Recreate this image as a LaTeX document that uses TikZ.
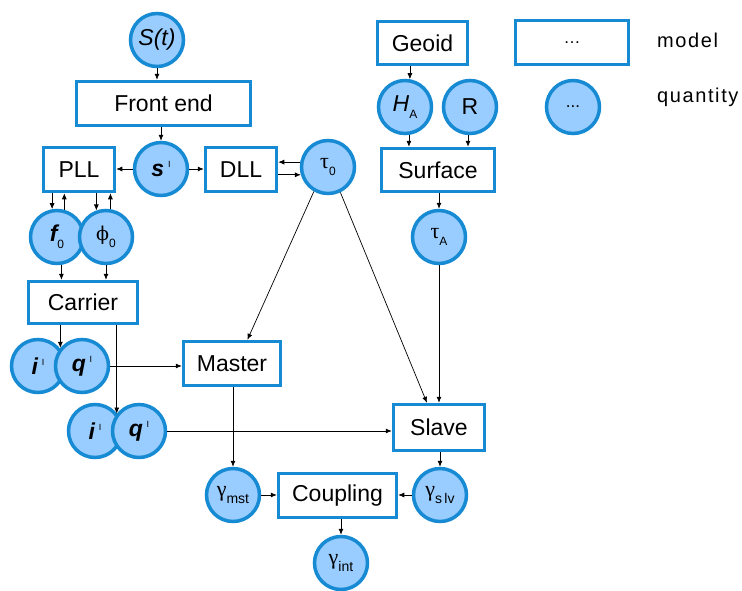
\documentclass[tikz,border=0pt]{standalone}
\usepackage{fontspec}
\setmainfont{Liberation Sans}
\newfontfamily\grk{Liberation Serif}
\newfontfamily\grkb{DejaVu Serif}
\usetikzlibrary{arrows.meta,calc}
\definecolor{bord}{RGB}{22,138,210}
\definecolor{qfill}{RGB}{153,204,255}
\newcommand{\pmark}{\,\raisebox{0.4em}{\fontsize{9}{9}\selectfont\upshape\mdseries I}}
\newcommand{\sbs}[1]{\raisebox{-0.3em}{\fontsize{12}{12}\selectfont\upshape\mdseries #1}}
\newcommand{\gl}[1]{{\grk\fontsize{22}{22}\selectfont #1}}
\begin{document}
\begin{tikzpicture}[x=1pt,y=-1pt,
  model/.style={draw=bord, line width=3.5pt, fill=white, inner sep=0pt, font=\fontsize{23}{23}\selectfont},
  qty/.style={circle, draw=bord, line width=3.5pt, fill=qfill, inner sep=0pt, minimum size=53pt, font=\fontsize{23}{23}\selectfont},
  arr/.style={-{Latex[length=6pt,width=5pt]}, line width=0.7pt, black},
  lbl/.style={anchor=west, inner sep=0pt, font=\fontsize{20}{20}\selectfont\addfontfeature{LetterSpace=8}}]
\useasboundingbox (0,0) rectangle (742,590);

% models
\node[model, minimum width=174pt, minimum height=44pt] (fe) at (163.5,103.5) {Front end};
\node[model, minimum width=71pt, minimum height=44pt] (pll) at (79,169.5) {PLL};
\node[model, minimum width=71pt, minimum height=44pt] (dll) at (241,169.5) {DLL};
\node[model, minimum width=109pt, minimum height=42pt] (car) at (83,302.5) {Carrier};
\node[model, minimum width=97pt, minimum height=44pt] (mas) at (232,363.5) {Master};
\node[model, minimum width=91pt, minimum height=46pt] (sla) at (439,427.5) {Slave};
\node[model, minimum width=118pt, minimum height=44pt] (cou) at (337.5,495.5) {Coupling};
\node[model, minimum width=90pt, minimum height=43pt] (geo) at (422.5,43) {Geoid};
\node[model, minimum width=113pt, minimum height=43pt] (sur) at (438,170) {Surface};
\node[model, minimum width=113pt, minimum height=44pt, font=\fontsize{17}{17}\selectfont] (lm) at (572,42.5) {\ldots};

% quantities
\node[qty] (st) at (157,40) {\itshape S(t)};
\node[qty] (s) at (161,169) {\bfseries\itshape s\pmark};
\node[qty] (t0) at (328,167) {\gl{τ}\sbs{0}};
\node[qty] (f0) at (57,237) {\bfseries\itshape f\sbs{0}};
\node[qty] (phi) at (106,237) {{\grkb\fontsize{19}{19}\selectfont ϕ}\sbs{0}};
\node[qty] (i1) at (38,366) {\bfseries\itshape i\pmark};
\node[qty] (q1) at (82,366) {\bfseries\itshape q\pmark};
\node[qty] (i2) at (95,431) {\bfseries\itshape i\pmark};
\node[qty] (q2) at (139,431) {\bfseries\itshape q\pmark};
\node[qty] (gm) at (233,495) {\gl{γ}\sbs{\fontsize{14}{14}\selectfont mst}};
\node[qty] (gs) at (440,495) {\gl{γ}\sbs{\fontsize{14}{14}\selectfont s\,lv}};
\node[qty] (gi) at (341,563) {\gl{γ}\sbs{\fontsize{14}{14}\selectfont int}};
\node[qty] (ha) at (405,107) {\itshape H\sbs{A}};
\node[qty] (r) at (470,107) {R};
\node[qty] (ta) at (439,237) {\gl{τ}\sbs{A}};
\node[qty, font=\fontsize{17}{17}\selectfont] (lq) at (573,107) {...};

% legend labels
\node[lbl] (lmt) at (657,40) {model};
\node[lbl] (lqt) at (657,97) {quantity};

% connectors
\draw[arr] (st.south) -- (st.south |- fe.north);
\draw[arr] (s.north |- fe.south) -- (s.north);
\draw[arr] (s.west) -- (s.west -| pll.east);
\draw[arr] (s.east) -- (s.east -| dll.west);
\draw[arr] (t0.170) -- (t0.170 -| dll.east);
\draw[arr] (t0.196 -| dll.east) -- (t0.196);
\draw[arr] (f0.100 |- pll.south) -- (f0.100);
\draw[arr] (f0.75) -- (f0.75 |- pll.south);
\draw[arr] (phi.110 |- pll.south) -- (phi.110);
\draw[arr] (phi.81) -- (phi.81 |- pll.south);
\draw[arr] (f0.-81) -- (f0.-81 |- car.north);
\draw[arr] (phi.south) -- (phi.south |- car.north);
\draw[arr] (q1.140 |- car.south) -- (q1.140);
\draw[arr] (q2.142 |- car.south) -- (q2.142);
\draw[arr] (q1.east) -- (q1.east -| mas.west);
\draw[arr] (q2.east) -- (q2.east -| sla.west);
\draw[arr] (t0.-120) -- (mas.57);
\draw[arr] (t0.-64) -- (sla.116);
\draw[arr] (ta.south) -- (ta.south |- sla.north);
\draw[arr] (gm.north |- mas.south) -- (gm.north);
\draw[arr] (gm.east) -- (gm.east -| cou.west);
\draw[arr] (gs.west) -- (gs.west -| cou.east);
\draw[arr] (gs.north |- sla.south) -- (gs.north);
\draw[arr] (gi.north |- cou.south) -- (gi.north);
\draw[arr] (ha.80 |- geo.south) -- (ha.80);
\draw[arr] (ha.-82) -- (ha.-82 |- sur.north);
\draw[arr] (r.-94) -- (r.-94 |- sur.north);
\draw[arr] (ta.north |- sur.south) -- (ta.north);
\end{tikzpicture}
\end{document}
